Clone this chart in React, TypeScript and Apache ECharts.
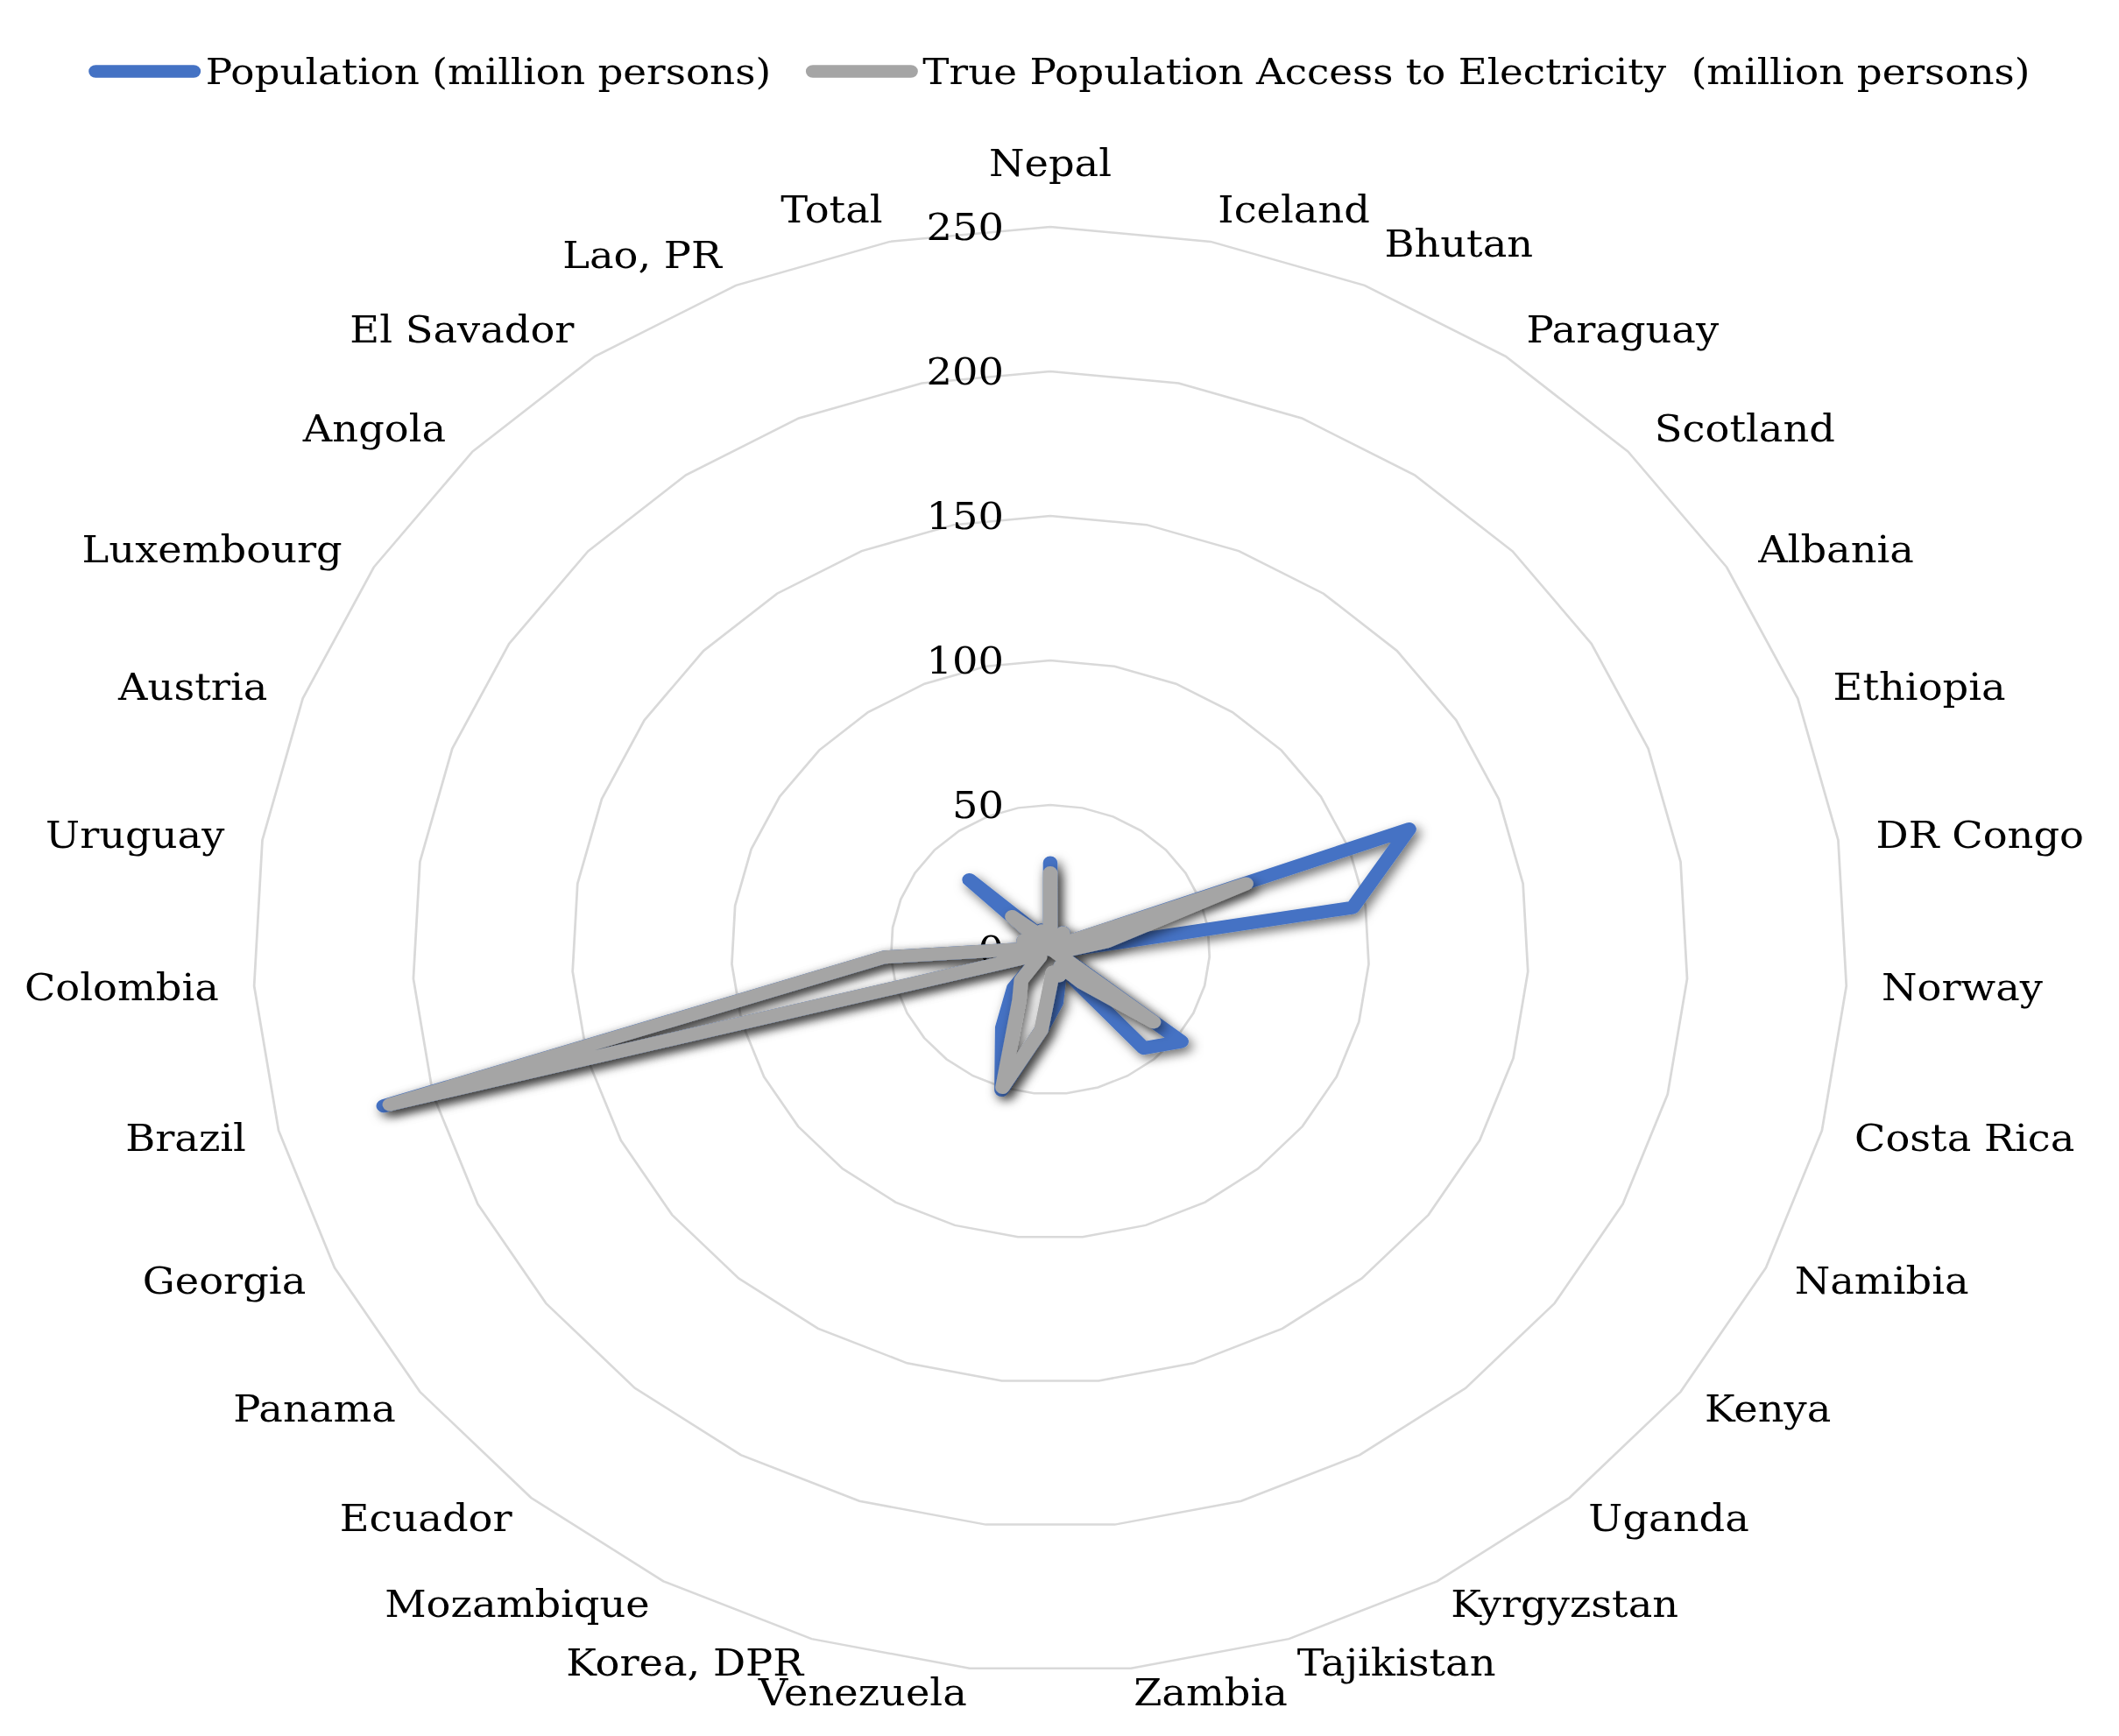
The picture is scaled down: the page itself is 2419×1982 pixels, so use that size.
import React, { useEffect, useRef } from "react";
import * as echarts from "echarts";

// Categories in clockwise order starting at the top
const categories = [
  "Nepal", "Iceland", "Bhutan", "Paraguay", "Scotland", "Albania", "Ethiopia",
  "DR Congo", "Norway", "Costa Rica", "Namibia", "Kenya", "Uganda", "Kyrgyzstan",
  "Tajikistan", "Zambia", "Venezuela", "Korea, DPR", "Mozambique", "Ecuador",
  "Panama", "Georgia", "Brazil", "Colombia", "Uruguay", "Austria", "Luxembourg",
  "Angola", "El Savador", "Lao, PR", "Total",
];

const population = [
  30, 0.4, 0.8, 7.1, 5.5, 2.8, 120,
  96, 5.4, 5.1, 2.5, 52, 45, 6.6,
  9.5, 18.4, 28, 51, 31, 17.6,
  4.3, 3.7, 216, 52, 3.5, 8.9, 0.6,
  35, 6.5, 7.3, 0,
];

const accessPopulation = [
  26.5, 0.4, 0.8, 7.0, 5.5, 2.8, 65.5,
  18, 5.4, 5.1, 1.4, 41, 15, 6.6,
  9.5, 8, 28, 50, 20, 14,
  4.1, 3.7, 214, 52, 3.5, 8.9, 0.6,
  16.5, 6.3, 7.0, 0,
];

const tickLabels = [0, 50, 100, 150, 200, 250];

const seriesNames = [
  "Population (million persons)",
  "True Population Access to Electricity  (million persons)",
];

const seriesColors = ["#4472C4", "#A5A5A5"];

const STRETCH = 1.103;
const W = 2193;
const H = 1982;
const FONT = "'DejaVu Serif', serif";
const PILL = "path://M7,0 H105 A7,7 0 0 1 105,14 H7 A7,7 0 0 1 7,0 Z";

export default function App() {
  const ref = useRef<HTMLDivElement>(null);

  useEffect(() => {
    if (!ref.current) return;
    const chart = echarts.init(ref.current, null, { renderer: "svg" });
    const n = categories.length;
    // ECharts radar runs counter-clockwise; reverse to get clockwise order
    const order = [0, ...Array.from({ length: n - 1 }, (_, k) => n - 1 - k)];
    const maxV = tickLabels[tickLabels.length - 1];

    const indicator = order.map((i, k) => {
      const theta = (i * 2 * Math.PI) / n;
      const c = Math.cos(theta);
      const gap = i === 0 ? 52 : i === 2 ? 52 : c >= 0 ? 40 - 3 * c : 37 + 9 * c;
      const ind: any = {
        name: categories[i],
        min: tickLabels[0],
        max: maxV,
        nameGap: gap,
      };
      if (k === 0) {
        ind.axisLabel = {
          show: true,
          color: "#000",
          fontFamily: FONT,
          fontSize: 42,
          margin: 48,
        };
      }
      return ind;
    });

    const shadow = {
      shadowColor: "rgba(0,0,0,0.55)",
      shadowBlur: 12,
      shadowOffsetX: 4,
      shadowOffsetY: 5,
    };

    chart.setOption({
      animation: false,
      backgroundColor: "#ffffff",
      legend: {
        top: 56,
        left: "center",
        data: seriesNames.map((name) => ({ name, icon: PILL })),
        itemWidth: 116,
        itemHeight: 15,
        itemGap: 36,
        textStyle: { color: "#000", fontFamily: FONT, fontSize: 41 },
      },
      radar: {
        center: [1087, 1084],
        radius: 825,
        shape: "polygon",
        startAngle: 90,
        splitNumber: tickLabels.length - 1,
        indicator,
        axisName: { color: "#000", fontFamily: FONT, fontSize: 42 },
        axisLine: { show: false },
        axisTick: { show: false },
        axisLabel: { show: false },
        splitArea: { show: false },
        splitLine: { lineStyle: { color: "#d9d9d9", width: 2.5 } },
      },
      series: [
        {
          type: "radar",
          symbol: "none",
          data: [
            {
              name: seriesNames[0],
              value: order.map((i) => population[i]),
              lineStyle: { color: seriesColors[0], width: 15, cap: "round", join: "round", ...shadow },
              itemStyle: { color: seriesColors[0] },
            },
            {
              name: seriesNames[1],
              value: order.map((i) => accessPopulation[i]),
              lineStyle: { color: seriesColors[1], width: 15, cap: "round", join: "round", ...shadow },
              itemStyle: { color: seriesColors[1] },
            },
          ],
        },
      ],
    });

    return () => chart.dispose();
  }, []);

  return (
    <div
      style={{
        position: "absolute",
        left: 0,
        top: 0,
        width: W * STRETCH,
        height: H,
        overflow: "hidden",
        background: "#fff",
      }}
    >
      <div
        ref={ref}
        style={{
          width: W,
          height: H,
          transform: `scaleX(${STRETCH})`,
          transformOrigin: "0 0",
        }}
      />
    </div>
  );
}
